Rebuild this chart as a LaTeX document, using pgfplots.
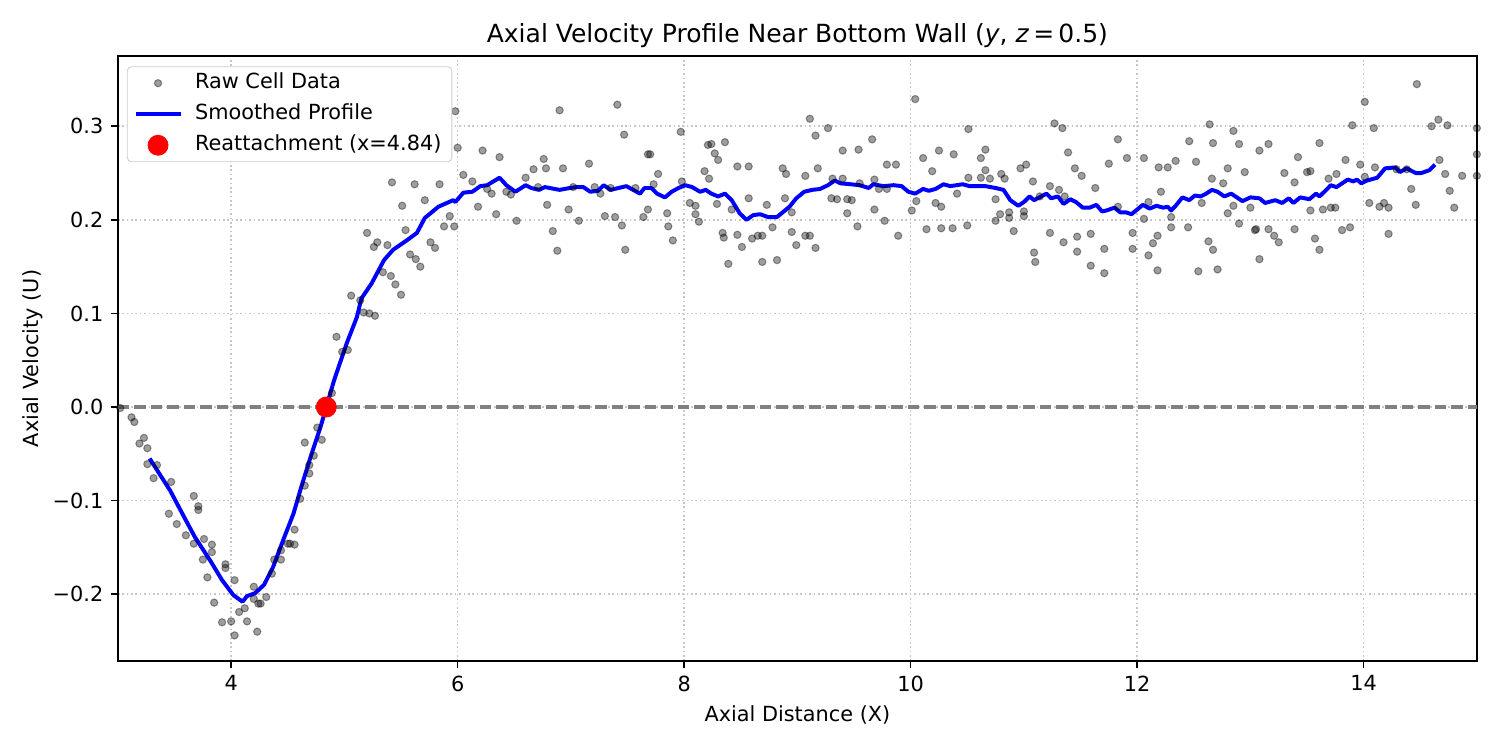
\documentclass[border=0pt]{standalone}
\usepackage{fontspec}
\setmainfont{DejaVu Sans}
\usepackage{pgfplots}
\pgfplotsset{compat=1.18}

% legend handles of fixed length, with a gap before the text
\pgfplotsset{
  dotlegend/.style={legend image code/.code={\draw[mark repeat=2,mark phase=2,##1] plot coordinates {(0pt,0pt) (10.8pt,0pt) (21.6pt,0pt)}; \path (25.6pt,0pt);}},
  linelegend/.style={legend image code/.code={\draw[##1] (0pt,0pt) -- (21.6pt,0pt); \path (25.6pt,0pt);}},
}

% raw cell samples along the bottom wall
\pgfplotstableread{
x y
3.02 -0.001
3.12 -0.011
3.145 -0.016
3.19 -0.039
3.23 -0.033
3.26 -0.044
3.26 -0.061
3.315 -0.076
3.345 -0.062
3.45 -0.114
3.47 -0.080
3.52 -0.125
3.60 -0.137
3.67 -0.095
3.67 -0.146
3.71 -0.106
3.71 -0.110
3.75 -0.163
3.76 -0.141
3.79 -0.182
3.83 -0.147
3.83 -0.155
3.85 -0.209
3.92 -0.230
3.95 -0.168
3.95 -0.172
4.00 -0.229
4.03 -0.185
4.03 -0.244
4.07 -0.219
4.12 -0.215
4.14 -0.229
4.20 -0.192
4.20 -0.205
4.23 -0.240
4.24 -0.210
4.26 -0.210
4.31 -0.203
4.36 -0.178
4.38 -0.163
4.44 -0.163
4.44 -0.153
4.50 -0.146
4.52 -0.146
4.56 -0.147
4.56 -0.131
4.61 -0.098
4.65 -0.084
4.65 -0.038
4.69 -0.071
4.69 -0.062
4.73 -0.052
4.76 -0.022
4.80 -0.035
4.89 0.015
4.93 0.075
4.98 0.059
5.03 0.061
5.06 0.119
5.14 0.114
5.17 0.101
5.20 0.186
5.22 0.100
5.26 0.171
5.27 0.0975
5.29 0.176
5.34 0.144
5.38 0.173
5.41 0.140
5.42 0.240
5.45 0.131
5.50 0.120
5.51 0.215
5.54 0.189
5.58 0.163
5.62 0.238
5.63 0.158
5.67 0.150
5.71 0.221
5.76 0.176
5.80 0.170
5.84 0.238
5.88 0.193
5.93 0.204
5.97 0.193
5.98 0.316
6.00 0.277
6.05 0.248
6.13 0.241
6.18 0.214
6.22 0.274
6.26 0.233
6.30 0.228
6.34 0.206
6.37 0.267
6.43 0.230
6.47 0.227
6.52 0.199
6.60 0.245
6.67 0.254
6.71 0.235
6.76 0.265
6.78 0.255
6.79 0.216
6.84 0.188
6.88 0.167
6.90 0.317
6.93 0.255
6.98 0.211
7.02 0.235
7.07 0.199
7.16 0.260
7.21 0.235
7.26 0.228
7.30 0.204
7.35 0.234
7.39 0.203
7.41 0.323
7.45 0.194
7.47 0.291
7.48 0.168
7.57 0.234
7.64 0.203
7.68 0.211
7.68 0.270
7.70 0.270
7.73 0.238
7.77 0.249
7.85 0.207
7.86 0.193
7.90 0.178
7.97 0.294
7.98 0.241
8.05 0.218
8.10 0.215
8.10 0.206
8.13 0.198
8.18 0.252
8.21 0.280
8.22 0.244
8.24 0.281
8.27 0.271
8.29 0.217
8.30 0.264
8.34 0.186
8.35 0.181
8.36 0.283
8.39 0.153
8.42 0.211
8.47 0.257
8.47 0.184
8.51 0.171
8.57 0.257
8.57 0.223
8.60 0.180
8.65 0.183
8.69 0.183
8.69 0.155
8.73 0.216
8.78 0.192
8.82 0.157
8.87 0.255
8.89 0.223
8.90 0.249
8.95 0.208
8.95 0.187
8.99 0.173
9.07 0.247
9.07 0.183
9.11 0.183
9.11 0.308
9.16 0.290
9.16 0.170
9.18 0.255
9.27 0.298
9.30 0.223
9.31 0.244
9.35 0.222
9.40 0.274
9.40 0.244
9.44 0.222
9.44 0.207
9.48 0.221
9.53 0.193
9.54 0.275
9.55 0.239
9.66 0.286
9.68 0.243
9.68 0.211
9.72 0.233
9.77 0.199
9.79 0.233
9.79 0.259
9.87 0.259
9.89 0.183
10.01 0.210
10.04 0.329
10.05 0.220
10.11 0.266
10.14 0.190
10.19 0.252
10.22 0.218
10.25 0.274
10.27 0.214
10.27 0.191
10.37 0.191
10.38 0.270
10.41 0.228
10.50 0.194
10.51 0.245
10.51 0.297
10.62 0.266
10.62 0.245
10.66 0.275
10.66 0.253
10.70 0.244
10.75 0.222
10.75 0.199
10.79 0.206
10.80 0.249
10.83 0.244
10.87 0.208
10.87 0.202
10.91 0.188
10.97 0.255
11.00 0.209
11.00 0.204
11.02 0.259
11.08 0.241
11.09 0.165
11.10 0.155
11.14 0.225
11.23 0.236
11.23 0.186
11.27 0.303
11.31 0.232
11.34 0.298
11.35 0.176
11.36 0.225
11.39 0.272
11.45 0.255
11.47 0.182
11.47 0.166
11.51 0.247
11.59 0.151
11.59 0.185
11.63 0.234
11.71 0.169
11.71 0.143
11.75 0.260
11.83 0.286
11.83 0.214
11.91 0.266
11.96 0.186
11.96 0.169
12.06 0.266
12.06 0.201
12.10 0.162
12.10 0.219
12.14 0.175
12.18 0.183
12.18 0.146
12.19 0.256
12.21 0.230
12.27 0.256
12.30 0.203
12.30 0.192
12.34 0.263
12.45 0.192
12.46 0.284
12.52 0.262
12.54 0.145
12.57 0.218
12.63 0.177
12.64 0.302
12.66 0.244
12.67 0.168
12.67 0.282
12.71 0.147
12.76 0.239
12.80 0.207
12.80 0.255
12.85 0.215
12.85 0.295
12.90 0.281
12.90 0.196
12.95 0.251
13.00 0.213
13.04 0.189
13.05 0.190
13.08 0.158
13.08 0.274
13.16 0.281
13.16 0.190
13.21 0.183
13.25 0.176
13.30 0.250
13.39 0.240
13.39 0.190
13.42 0.267
13.50 0.251
13.53 0.252
13.53 0.210
13.57 0.180
13.61 0.168
13.61 0.282
13.64 0.211
13.69 0.244
13.71 0.213
13.75 0.213
13.76 0.249
13.81 0.189
13.84 0.264
13.88 0.192
13.90 0.301
13.97 0.259
14.01 0.326
14.01 0.246
14.05 0.218
14.09 0.298
14.10 0.256
14.14 0.214
14.18 0.218
14.22 0.213
14.22 0.185
14.29 0.254
14.38 0.254
14.42 0.233
14.46 0.216
14.47 0.345
14.60 0.300
14.66 0.307
14.67 0.264
14.72 0.249
14.74 0.301
14.76 0.231
14.80 0.213
14.87 0.247
15.00 0.298
15.00 0.270
15.00 0.247
}\rawdata

% moving-average profile
\pgfplotstableread{
x y
3.28 -0.055
3.46 -0.089
3.60 -0.121
3.68 -0.139
3.82 -0.165
3.92 -0.185
4.02 -0.201
4.10 -0.208
4.14 -0.202
4.21 -0.199
4.29 -0.190
4.37 -0.171
4.46 -0.142
4.55 -0.114
4.62 -0.085
4.71 -0.050
4.79 -0.021
4.84 0.000
4.91 0.029
5.02 0.068
5.11 0.096
5.15 0.116
5.24 0.132
5.35 0.157
5.43 0.168
5.55 0.178
5.64 0.186
5.71 0.202
5.83 0.214
5.96 0.221
5.98 0.219
6.05 0.229
6.13 0.230
6.20 0.236
6.26 0.237
6.37 0.245
6.43 0.237
6.51 0.230
6.60 0.237
6.65 0.234
6.72 0.232
6.77 0.235
6.90 0.232
6.99 0.234
7.05 0.235
7.11 0.235
7.17 0.230
7.24 0.231
7.29 0.237
7.35 0.232
7.49 0.236
7.61 0.228
7.65 0.234
7.71 0.234
7.76 0.228
7.83 0.224
7.89 0.230
7.95 0.234
8.01 0.237
8.07 0.235
8.14 0.230
8.19 0.232
8.24 0.228
8.30 0.225
8.36 0.228
8.42 0.221
8.49 0.207
8.55 0.200
8.61 0.205
8.67 0.206
8.74 0.203
8.82 0.203
8.88 0.209
8.93 0.214
8.99 0.223
9.06 0.230
9.13 0.232
9.20 0.233
9.27 0.237
9.33 0.242
9.38 0.239
9.47 0.238
9.55 0.237
9.63 0.234
9.67 0.238
9.76 0.236
9.85 0.237
9.92 0.236
9.98 0.230
10.04 0.228
10.11 0.233
10.16 0.231
10.22 0.233
10.29 0.238
10.35 0.236
10.46 0.238
10.52 0.236
10.66 0.236
10.75 0.234
10.82 0.232
10.88 0.221
10.95 0.215
11.00 0.219
11.05 0.225
11.09 0.221
11.20 0.228
11.24 0.223
11.30 0.225
11.35 0.217
11.41 0.222
11.46 0.219
11.52 0.213
11.58 0.213
11.64 0.216
11.69 0.209
11.73 0.210
11.80 0.213
11.85 0.208
11.90 0.208
11.95 0.206
11.99 0.210
12.05 0.216
12.11 0.212
12.17 0.215
12.23 0.213
12.27 0.214
12.30 0.210
12.34 0.215
12.40 0.224
12.46 0.221
12.51 0.226
12.56 0.225
12.61 0.228
12.66 0.232
12.71 0.230
12.77 0.225
12.83 0.228
12.88 0.224
12.93 0.220
13.00 0.224
13.08 0.223
13.13 0.218
13.22 0.221
13.28 0.218
13.34 0.223
13.38 0.218
13.44 0.224
13.52 0.222
13.58 0.228
13.61 0.225
13.67 0.232
13.71 0.237
13.76 0.235
13.86 0.243
13.91 0.241
13.94 0.243
13.98 0.239
14.03 0.242
14.12 0.245
14.19 0.255
14.28 0.256
14.32 0.251
14.38 0.255
14.46 0.250
14.51 0.250
14.58 0.253
14.63 0.259
}\smoothdata

\begin{document}
\begin{tikzpicture}
\path[use as bounding box] (0,0) rectangle (720pt,360pt);
\begin{axis}[
  at={(56.6pt,42.7pt)}, anchor=south west,
  scale only axis, width=652.3pt, height=290.4pt,
  xmin=3, xmax=15, ymin=-0.2714, ymax=0.375,
  xtick={4,6,8,10,12,14},
  ytick={-0.2,-0.1,0,0.1,0.2,0.3},
  yticklabels={−0.2,−0.1,0.0,0.1,0.2,0.3},
  /pgf/number format/assume math mode=true,
  tick label style={font=\fontsize{10}{12}\selectfont},
  tick align=outside, major tick length=3.5pt,
  xtick pos=lower, ytick pos=left,
  tick style={black, line width=0.8pt},
  axis line style={black, line width=0.8pt},
  grid=major,
  major grid style={black!22, line width=0.8pt, dash pattern=on 0.8pt off 1.3pt},
  every axis title shift=0pt,
  title={Axial Velocity Profile Near Bottom Wall (\textit{y}, \textit{z}\,=\,0.5)},
  title style={font=\fontsize{12}{14}\selectfont, at={(axis description cs:0.5,1)}, anchor=center, yshift=10pt},
  xlabel={Axial Distance (X)},
  ylabel={Axial Velocity (U)},
  label style={font=\fontsize{10}{12}\selectfont},
  xlabel style={at={(axis description cs:0.5,0)}, anchor=center, yshift=-26pt},
  ylabel style={at={(axis description cs:0,0.5)}, anchor=center, rotate=0, yshift=40.8pt},
  legend cell align=left,
  legend style={at={(axis description cs:0.0066,0.983)}, anchor=north west,
    draw=black!20, rounded corners=2pt, fill=white,
    font=\fontsize{10}{12}\selectfont, inner xsep=3pt, inner ysep=2pt,
    row sep=3.1pt,
    nodes={text height=7.6pt, text depth=2.2pt, inner ysep=1pt}},
]
\addplot[only marks, mark=*, mark size=1.75pt, draw=black, fill=black, opacity=0.38, line width=0.5pt, dotlegend]
  table[x=x,y=y] {\rawdata};
\addlegendentry{Raw Cell Data}

\addplot[blue, line width=1.9pt, no marks, line join=round, linelegend]
  table[x=x,y=y] {\smoothdata};
\addlegendentry{Smoothed Profile}

\addplot[gray, line width=1.5pt, dash pattern=on 5.5pt off 2.4pt, forget plot]
  coordinates {(3,0) (15,0)};

\addplot[only marks, mark=*, mark size=4.8pt, color=red, fill=red, draw=red, dotlegend]
  coordinates {(4.84,0)};
\addlegendentry{Reattachment (x=4.84)}
\end{axis}
\end{tikzpicture}
\end{document}
